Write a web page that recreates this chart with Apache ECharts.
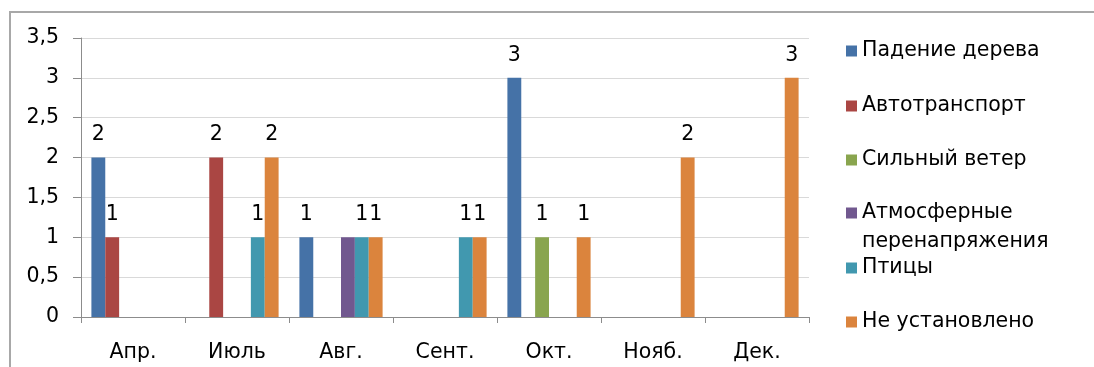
<!DOCTYPE html>
<html>
<head>
<meta charset="utf-8">
<script src="https://cdn.jsdelivr.net/npm/echarts@6/dist/echarts.min.js"></script>
<style>
  html, body { margin: 0; padding: 0; background: #fff; overflow: hidden; }
  #wrap { position: relative; width: 1094px; height: 367px; overflow: hidden; }
  #chart { position: absolute; left: 0; top: 0; width: 1094px; height: 367px; }
  /* chart frame: only its left and top edges fall inside the view */
  #frame {
    position: absolute; left: 9px; top: 11px; width: 1200px; height: 500px;
    border-left: 2px solid #a8a8a8; border-top: 2px solid #a8a8a8;
    pointer-events: none;
  }
</style>
</head>
<body>
<div id="wrap">
  <div id="chart"></div>
  <div id="frame"></div>
</div>
<script>
// Months on the category axis
const months = ['Апр.', 'Июль', 'Авг.', 'Сент.', 'Окт.', 'Нояб.', 'Дек.'];

// Number of outages per cause, one value per month
const treeFall      = [2, 0, 1, 0, 3, 0, 0];
const vehicles      = [1, 2, 0, 0, 0, 0, 0];
const strongWind    = [0, 0, 0, 0, 1, 0, 0];
const overvoltage   = [0, 0, 1, 0, 0, 0, 0];
const birds         = [0, 1, 1, 1, 0, 0, 0];
const unknownCause  = [0, 2, 1, 1, 1, 2, 3];

// Value axis ticks
const yTicks = [0, 0.5, 1, 1.5, 2, 2.5, 3, 3.5];

const seriesDefs = [
  { name: 'Падение дерева', data: treeFall, color: '#4572A7', labels: true },
  { name: 'Автотранспорт', data: vehicles, color: '#AA4643', labels: true },
  { name: 'Сильный ветер', data: strongWind, color: '#89A54E', labels: true },
  { name: 'Атмосферные перенапряжения', data: overvoltage, color: '#71588F', labels: false },
  { name: 'Птицы', data: birds, color: '#4198AF', labels: true },
  { name: 'Не установлено', data: unknownCause, color: '#DB843D', labels: true }
];

// Vertical centre of each legend row (icon line)
const legendRows = [51, 106, 160, 213, 268, 322];

const FONT = 'DejaVu Sans, Liberation Sans, Arial, sans-serif';
const FS = 20.5;
const LH = 26;

const chart = echarts.init(document.getElementById('chart'), null, { renderer: 'canvas' });

const legends = seriesDefs.map((s, i) => {
  const twoLine = s.name === 'Атмосферные перенапряжения';
  return {
    data: [s.name],
    orient: 'vertical',
    left: 846,
    // a leading blank line keeps the icon level with the first text line
    top: twoLine ? legendRows[i] - 1.5 * 29 : legendRows[i] - LH / 2,
    padding: 0,
    itemWidth: 11,
    itemHeight: 11,
    icon: 'rect',
    selectedMode: false,
    formatter: twoLine ? () => '\nАтмосферные\nперенапряжения' : undefined,
    textStyle: {
      fontFamily: FONT, fontSize: FS, color: '#000',
      lineHeight: twoLine ? 29 : LH
    }
  };
});

const option = {
  backgroundColor: '#fff',
  animation: false,
  textStyle: { fontFamily: FONT },
  legend: legends,
  grid: { left: 81, right: 285, top: 38, bottom: 50, containLabel: false },
  xAxis: {
    type: 'category',
    data: months,
    boundaryGap: true,
    axisLine: { show: true, lineStyle: { color: '#8c8c8c', width: 1 } },
    axisTick: { show: true, length: 6, lineStyle: { color: '#8c8c8c' } },
    axisLabel: { fontFamily: FONT, fontSize: FS, color: '#000', margin: 25 }
  },
  yAxis: {
    type: 'value',
    min: yTicks[0],
    max: yTicks[yTicks.length - 1],
    interval: 0.5,
    axisLine: { show: true, lineStyle: { color: '#8c8c8c', width: 1 } },
    axisTick: { show: true, length: 8, inside: false, lineStyle: { color: '#8c8c8c' } },
    splitLine: { show: true, lineStyle: { color: '#d9d9d9', width: 1 } },
    axisLabel: {
      fontFamily: FONT, fontSize: FS, color: '#000', margin: 22,
      formatter: v => String(v).replace('.', ',')
    }
  },
  series: seriesDefs.map(s => ({
    name: s.name,
    type: 'bar',
    data: s.data,
    barGap: '0%',
    barCategoryGap: '20%',
    itemStyle: { color: s.color },
    label: {
      show: s.labels,
      position: 'top',
      distance: 12,
      fontFamily: FONT,
      fontSize: FS,
      color: '#000',
      formatter: p => (p.value === 0 ? '' : String(p.value))
    }
  }))
};

chart.setOption(option);
</script>
</body>
</html>
